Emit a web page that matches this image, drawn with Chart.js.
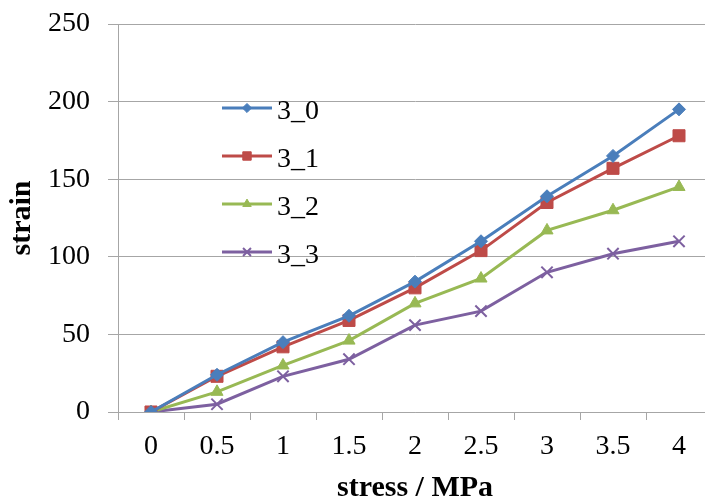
<!DOCTYPE html>
<html>
<head>
<meta charset="utf-8">
<script src="https://cdn.jsdelivr.net/npm/chart.js@4.4.0/dist/chart.umd.min.js"></script>
<style>
  html, body { margin: 0; padding: 0; background: #ffffff; }
  #wrap { width: 705px; height: 502px; overflow: hidden; position: relative; font-family: "Liberation Serif"; }
  #box { width: 722px; height: 516px; position: absolute; left: 0; top: 0; }
  .probe { position: absolute; left: -999px; top: 0; font-family: "Liberation Serif"; }
</style>
</head>
<body>
<div id="wrap"><span class="probe">3_0 <b>strain</b></span><div id="box"><canvas id="chart"></canvas></div></div>
<script>
/* ── DATA ─────────────────────────────────────────────────── */
const stressLabels = ['0', '0.5', '1', '1.5', '2', '2.5', '3', '3.5', '4'];
const series30 = [0, 24, 45, 62, 84, 110, 139, 165, 195];
const series31 = [0, 23, 42, 59, 80, 104, 135, 157, 178];
const series32 = [0, 13, 30, 46, 70, 86, 117, 130, 145];
const series33 = [0, 5, 23, 34, 56, 65, 90, 102, 110];
const seriesNames = ['3_0', '3_1', '3_2', '3_3'];

const FONT = '"Liberation Serif", serif';
const GRID = '#a6a6a6';

function makeSet(label, data, color, style, radius) {
  return {
    label, data,
    borderColor: color,
    backgroundColor: color,
    borderWidth: 3,
    pointStyle: style,
    pointRadius: radius,
    pointBorderWidth: style === 'crossRot' ? 2 : 1,
    pointBackgroundColor: color,
    pointBorderColor: color,
    tension: 0
  };
}

/* ── LEGEND INSIDE PLOT (Excel style) ─────────────────────── */
const innerLegend = {
  id: 'innerLegend',
  afterDraw(chart) {
    const ctx = chart.ctx;
    ctx.save();
    chart.data.datasets.forEach((ds, i) => {
      const y = 108 + i * 48;
      ctx.strokeStyle = ds.borderColor;
      ctx.lineWidth = 3;
      ctx.beginPath();
      ctx.moveTo(222, y);
      ctx.lineTo(272, y);
      ctx.stroke();
      ctx.fillStyle = ds.borderColor;
      ctx.lineWidth = ds.pointBorderWidth;
      Chart.helpers.drawPoint(ctx, {
        pointStyle: ds.pointStyle,
        radius: ds.pointRadius * 0.7,
        borderWidth: ds.pointBorderWidth,
        rotation: 0
      }, 247, y);
      ctx.fillStyle = '#000000';
      ctx.font = '28px ' + FONT;
      ctx.textBaseline = 'alphabetic';
      ctx.textAlign = 'left';
      ctx.fillText(ds.label, 277, y + 11);
    });
    ctx.restore();
  }
};

function build() {
  new Chart(document.getElementById('chart'), {
    type: 'line',
    data: {
      labels: stressLabels,
      datasets: [
        makeSet(seriesNames[0], series30, '#4a7ebb', 'rectRot', 6.5),
        makeSet(seriesNames[1], series31, '#be4b48', 'rect', 8.5),
        makeSet(seriesNames[2], series32, '#98b954', 'triangle', 7),
        makeSet(seriesNames[3], series33, '#7d60a0', 'crossRot', 8)
      ]
    },
    options: {
      responsive: true,
      maintainAspectRatio: false,
      animation: false,
      layout: { padding: { top: 24, right: 6, left: 0, bottom: 0 } },
      plugins: {
        legend: { display: false },
        tooltip: { enabled: false }
      },
      scales: {
        x: {
          offset: true,
          grid: { offset: true, drawOnChartArea: false, drawTicks: true, tickLength: 8, color: GRID },
          border: { color: GRID, width: 1 },
          ticks: { color: '#000000', font: { family: FONT, size: 28 }, padding: 10, maxRotation: 0 },
          title: { display: true, text: 'stress / MPa', color: '#000000', font: { family: FONT, size: 30, weight: 'bold' }, padding: { top: 4, bottom: 10 } },
          afterFit: s => { s.height = 104; s.paddingLeft = 0; s.paddingRight = 0; }
        },
        y: {
          min: 0, max: 250,
          ticks: { stepSize: 50, color: '#000000', font: { family: FONT, size: 28 }, padding: 18 },
          grid: { color: GRID, tickLength: 10, lineWidth: 1 },
          border: { color: GRID, width: 1 },
          title: { display: true, text: 'strain', color: '#000000', font: { family: FONT, size: 30, weight: 'bold' }, padding: { top: 4, bottom: 0 } },
          afterFit: s => { s.width = 118; s.paddingTop = 0; s.paddingBottom = 0; }
        }
      }
    },
    plugins: [innerLegend]
  });
}

if (document.fonts && document.fonts.load) {
  Promise.all([
    document.fonts.load('28px "Liberation Serif"'),
    document.fonts.load('bold 30px "Liberation Serif"')
  ]).then(build, build);
} else {
  build();
}
</script>
</body>
</html>
